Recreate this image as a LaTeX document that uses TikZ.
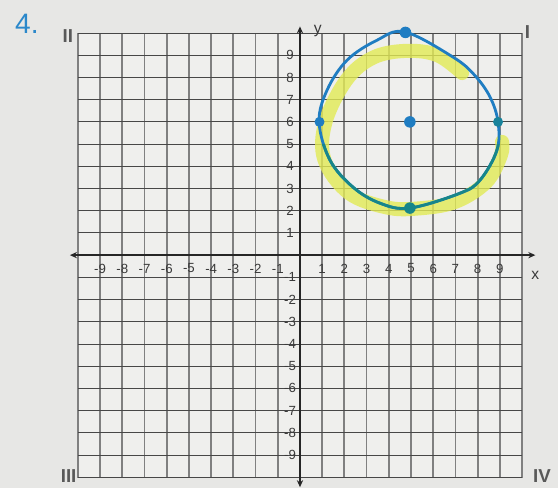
\documentclass[tikz,border=0pt]{standalone}
\usepackage{fontspec}
\setmainfont{Liberation Sans}
\usepackage{xcolor}
\usepackage{tikz}
\usetikzlibrary{arrows.meta}
\definecolor{paper}{HTML}{E7E7E5}
\definecolor{cell}{HTML}{EFEFED}
\definecolor{ink}{HTML}{3A3A3A}
\definecolor{pen}{HTML}{1F7DC2}
\definecolor{teal}{HTML}{17868A}
\definecolor{hilite}{HTML}{E2EA55}
\definecolor{numblue}{HTML}{2B88CA}
\tikzset{
  vline/.style={draw=black!50, line width=2.3pt, dash pattern=on 0.7pt off 0.5pt},
  hline/.style={draw=black!72, line width=1.1pt},
  axis/.style={draw=black!85, line width=2.2pt, {Stealth[length=9pt,width=8pt]}-{Stealth[length=9pt,width=8pt]}},
  tick/.style={text=ink, font=\fontsize{17}{17}\selectfont, inner sep=0pt},
  quad/.style={text=black!65, font=\fontsize{24}{24}\selectfont\bfseries, inner sep=0pt},
  ring/.style={line width=3.6pt, line cap=round, line join=round},
  dot/.style={circle, fill=pen, inner sep=0pt, minimum size=0.52cm},
}

\begin{document}
\begin{tikzpicture}
  \useasboundingbox[fill=paper] (-13.51,-10.50) rectangle (11.62,11.49);
  \fill[cell] (-10,-10) rectangle (10,10);

  % grid
  \foreach \i in {-10,...,10}
    \draw[vline] (\i,-10) -- (\i,10);
  \foreach \j in {-10,...,10}
    \draw[hline] (-10,\j) -- (10,\j);

  % axes
  \draw[axis] (-10.36,0) -- (10.6,0);
  \draw[axis] (0,-10.45) -- (0,10.3);
  \node[text=ink, font=\fontsize{20}{20}\selectfont] (ylab) at (0.8,10.1) {y};
  \node[text=ink, font=\fontsize{20}{20}\selectfont] (xlab) at (10.6,-0.9) {x};

  \foreach \n in {1,...,9} {
    \node[tick] at (\n,-0.6) {\n};
    \node[tick] at (-\n,-0.6) {-\n};
    \node[tick] at (-0.45,\n) {\n};
    \node[tick] at (-0.45,-\n) {-\n};
  }

  % quadrants
  \node[quad] (q2) at (-10.45,9.86) {II};
  \node[quad] (q1) at (10.25,10.05) {I};
  \node[quad] (q3) at (-10.42,-9.95) {III};
  \node[quad] (q4) at (10.9,-9.95) {IV};

  \node[text=numblue, font=\fontsize{36}{36}\selectfont] (num) at (-12.3,10.4) {4.};

  % highlighter
  \draw[hilite, line width=18pt, line cap=round, opacity=0.8]
    plot[smooth, tension=0.6] coordinates {(7.3,8.2) (6.2,9.0) (4.8,9.2) (3.3,8.9)
      (2.1,7.9) (1.15,6.0) (1.1,4.3) (2.2,2.8) (3.9,2.15) (5.3,2.1) (7.0,2.4)
      (8.4,3.3) (9.05,4.5) (9.1,5.1)};

  % circle
  \path[save path=\ringsave] plot[smooth cycle, tension=0.6] coordinates {
    (4.73,10.05) (6.89,8.92) (7.85,8.12) (8.56,7.12) (8.92,5.99) (8.87,4.73)
    (8.11,3.38) (7.21,2.79) (4.95,2.12) (3.6,2.34) (2.39,3.06) (1.35,4.28)
    (0.86,5.99) (1.22,7.43) (2.12,8.78) (3.47,9.68)};
  \draw[ring, pen, use path=\ringsave];
  \begin{scope}
    \clip (-1,-1) rectangle (11,5.0);
    \draw[ring, teal, use path=\ringsave];
  \end{scope}

  \node[dot] (top) at (4.75,10.03) {};
  \node[dot] (ctr) at (4.95,6.0) {};
  \node[dot, minimum size=0.45cm] (lft) at (0.88,6.0) {};
  \node[dot, minimum size=0.45cm, fill=teal!70!pen] (rgt) at (8.92,6.0) {};
  \node[dot, fill=teal] (bot) at (4.95,2.12) {};
\end{tikzpicture}
\end{document}
